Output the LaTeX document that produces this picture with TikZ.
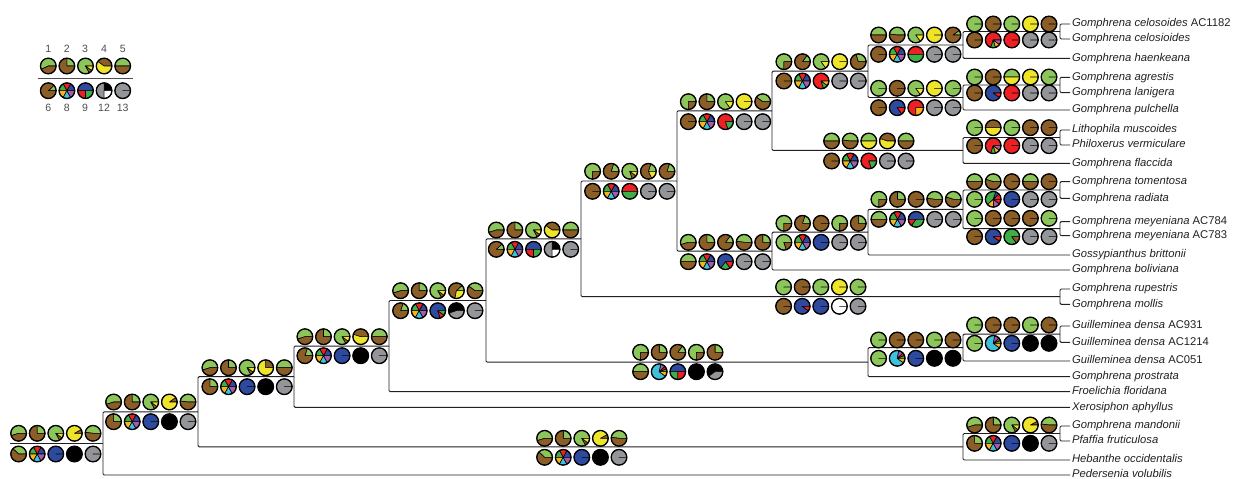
\documentclass[tikz,border=0pt]{standalone}
\usepackage{fontspec}
\setmainfont{Liberation Sans}
\definecolor{gn}{HTML}{8CC65A}
\definecolor{bn}{HTML}{8B5E28}
\definecolor{ye}{HTML}{EEE52B}
\definecolor{rd}{HTML}{ED2024}
\definecolor{bu}{HTML}{2E4A9E}
\definecolor{gy}{HTML}{939598}
\definecolor{bk}{HTML}{000000}
\definecolor{wh}{HTML}{FFFFFF}
\definecolor{dg}{HTML}{3FAE49}
\definecolor{or}{HTML}{F7B51B}
\definecolor{cy}{HTML}{3EC2DC}
\definecolor{pu}{HTML}{A45DAA}
\definecolor{txt}{HTML}{231F20}
\definecolor{numgray}{HTML}{4D4D4F}
\tikzset{branch/.style = {line width=0.8pt, draw=txt, rounded corners=1pt}}
\tikzset{tip/.style = {anchor=west, inner sep=1.5pt, text height=7pt, text depth=2pt,
                       font=\fontsize{9.6}{11}\selectfont\itshape, text=txt}}
\tikzset{slice/.style = {draw=black, line width=0.5pt, line join=round}}
\tikzset{rim/.style = {draw=black, line width=1.1pt}}
\tikzset{num/.style = {font=\fontsize{9}{10}\selectfont, text=numgray, inner sep=0}}
\newlength{\prad}
\setlength{\prad}{0.235cm}
% multi-state pies
\def\mxa{bu/17,rd/16,dg/17,or/17,cy/16,pu/17}
\def\mxr{rd/70,dg/10,or/10,pu/10}
\def\mxc{dg/6,rd/6,pu/10,cy/68,or/10}
\def\mxg{rd/12,bu/8,dg/42,or/14,pu/14,rd/10}
\newcommand{\pie}[3]{%
  \begin{scope}[shift={(#1,#2)}]
    \edef\plist{#3}%
    \gdef\pang{0}%
    \foreach \pc/\pp in \plist {%
      \pgfmathsetmacro{\pnew}{\pang+3.6*\pp}%
      \filldraw[fill=\pc, slice] (0,0) -- (\pang:\prad)
        arc[start angle=\pang, end angle=\pnew, radius=\prad] -- cycle;
      \xdef\pang{\pnew}%
    }%
    \draw[rim] (0,0) circle[radius=\prad];
  \end{scope}}
\newcommand{\pierow}[7]{%
  \pie{#1-74.4}{#2}{#3}\pie{#1-55.8}{#2}{#4}\pie{#1-37.2}{#2}{#5}%
  \pie{#1-18.6}{#2}{#6}\pie{#1}{#2}{#7}}

\begin{document}
\begin{tikzpicture}[x=0.03cm, y=-0.03cm]
  \useasboundingbox (0,0) rectangle (1235,479);

  % internal nodes
  \coordinate (root) at (10,443.4);
  \coordinate (m1) at (103,443.4);
  \coordinate (l1) at (198,411.8);
  \coordinate (k1) at (294,376.7);
  \coordinate (j1) at (389,346.1);
  \coordinate (i1) at (486,300.5);
  \coordinate (h1) at (581,238.8);
  \coordinate (g1) at (677,181);
  \coordinate (f1) at (772,110.8);
  \coordinate (f2) at (772,251.1);
  \coordinate (e1) at (868,71.2);
  \coordinate (e2) at (868,232.2);
  \coordinate (e3) at (868,362.1);
  \coordinate (d1) at (963,45);
  \coordinate (d2) at (963,97.5);
  \coordinate (d3) at (963,150.4);
  \coordinate (d4) at (963,209.3);
  \coordinate (d5) at (963,347.6);
  \coordinate (d6) at (963,446.8);
  \coordinate (c1) at (1060,31.5);
  \coordinate (c2) at (1060,85);
  \coordinate (c3) at (1060,137.5);
  \coordinate (c4) at (1060,190);
  \coordinate (c5) at (1060,228.7);
  \coordinate (c6) at (1060,296.7);
  \coordinate (c7) at (1060,334.2);
  \coordinate (c8) at (1060,433.5);

  % tips
  \node [tip] (t1) at (1070,24) {Gomphrena celosoides \upshape AC1182};
  \node [tip] (t2) at (1070,39) {Gomphrena celosioides};
  \node [tip] (t3) at (1070,58.3) {Gomphrena haenkeana};
  \node [tip] (t4) at (1070,77.3) {Gomphrena agrestis};
  \node [tip] (t5) at (1070,92.7) {Gomphrena lanigera};
  \node [tip] (t6) at (1070,110) {Gomphrena pulchella};
  \node [tip] (t7) at (1070,130) {Lithophila muscoides};
  \node [tip] (t8) at (1070,145) {Philoxerus vermiculare};
  \node [tip] (t9) at (1070,163.3) {Gomphrena flaccida};
  \node [tip] (t10) at (1070,181.7) {Gomphrena tomentosa};
  \node [tip] (t11) at (1070,198.3) {Gomphrena radiata};
  \node [tip] (t12) at (1070,221.7) {Gomphrena meyeniana \upshape AC784};
  \node [tip] (t13) at (1070,235.7) {Gomphrena meyeniana \upshape AC783};
  \node [tip] (t14) at (1070,255) {Gossypianthus brittonii};
  \node [tip] (t15) at (1070,270) {Gomphrena boliviana};
  \node [tip] (t16) at (1070,289) {Gomphrena rupestris};
  \node [tip] (t17) at (1070,304.3) {Gomphrena mollis};
  \node [tip] (t18) at (1070,326) {Guilleminea densa \upshape AC931};
  \node [tip] (t19) at (1070,342.3) {Guilleminea densa \upshape AC1214};
  \node [tip] (t20) at (1070,361) {Guilleminea densa \upshape AC051};
  \node [tip] (t21) at (1070,376.7) {Gomphrena prostrata};
  \node [tip] (t22) at (1070,391.7) {Froelichia floridana};
  \node [tip] (t23) at (1070,407.3) {Xerosiphon aphyllus};
  \node [tip] (t24) at (1070,426) {Gomphrena mandonii};
  \node [tip] (t25) at (1070,441) {Pfaffia fruticulosa};
  \node [tip] (t26) at (1070,460) {Hebanthe occidentalis};
  \node [tip] (t27) at (1070,475) {Pedersenia volubilis};

  % branches
  \draw [branch] (root) -- (m1);
  \foreach \p/\c in {m1/l1, l1/k1, l1/d6, k1/j1, j1/i1, i1/h1, i1/e3, h1/g1, h1/c6,
                     g1/f1, g1/f2, f1/e1, f1/d3, e1/d1, e1/d2, d1/c1, d2/c2, d3/c3,
                     f2/e2, e2/d4, d4/c4, d4/c5, e3/d5, d5/c7, d6/c8}
    \draw [branch] (\p) |- (\c);
  \foreach \p/\c in {m1/t27, k1/t23, j1/t22, c1/t1, c1/t2, d1/t3, c2/t4, c2/t5, d2/t6,
                     c3/t7, c3/t8, d3/t9, c4/t10, c4/t11, c5/t12, c5/t13, e2/t14, f2/t15,
                     c6/t16, c6/t17, c7/t18, c7/t19, d5/t20, e3/t21, c8/t24, c8/t25, d6/t26}
    \draw [branch] (\p) |- (\c.west);

  % legend
  \foreach \x/\n in {48.3/1, 66.7/2, 85/3, 104/4, 122.7/5}
    \node [num] (lg\n) at (\x,49) {\n};
  \foreach \x/\n in {48.3/6, 66.7/8, 85/9, 104/12, 122.7/13}
    \node [num] (lg\n) at (\x,108) {\n};
  \draw [line width=0.8pt, draw=numgray] (38.3,78.3) -- (133.3,78.3);
  \pierow{122.7}{66}{gn/57,bn/43}{gn/25,bn/75}{gn/83,bn/7,ye/10}{bn/40,ye/60}{gn/50,bn/50}
  \pierow{122.7}{90.7}{gn/12,bn/88}{\mxa}{bu/50,rd/25,dg/25}{bk/25,gy/50,wh/25}{gy/100}

  % ancestral states along branches
  \pierow{93}{433.3}{gn/55,bn/45}{gn/25,bn/75}{gn/83,bn/7,ye/10}{bn/8,ye/92}{gn/48,bn/52}
  \pierow{93}{454}{gn/38,bn/62}{\mxa}{bu/100}{bk/100}{gy/100}
  \pierow{188}{402}{gn/55,bn/45}{gn/25,bn/75}{gn/83,bn/7,ye/10}{bn/10,ye/90}{gn/48,bn/52}
  \pierow{188}{421.7}{gn/25,bn/75}{\mxa}{bu/100}{bk/100}{gy/100}
  \pierow{284.3}{367.7}{gn/55,bn/45}{gn/25,bn/75}{gn/83,bn/7,ye/10}{bn/25,ye/75}{gn/50,bn/50}
  \pierow{284.3}{386.7}{gn/25,bn/75}{\mxa}{bu/100}{bk/100}{gy/100}
  \pierow{379.3}{336.7}{gn/55,bn/45}{gn/25,bn/75}{gn/83,bn/7,ye/10}{bn/45,ye/55}{gn/50,bn/50}
  \pierow{379.3}{355.7}{gn/20,bn/80}{\mxa}{bu/100}{bk/100}{gy/100}
  \pierow{475}{290.7}{gn/55,bn/45}{gn/25,bn/75}{gn/83,bn/7,ye/10}{gn/12,bn/60,ye/28}{gn/40,bn/60}
  \pierow{475}{310.7}{gn/20,bn/80}{\mxa}{bu/80,rd/10,dg/10}{bk/55,gy/45}{gy/100}
  \pierow{570.7}{230}{gn/55,bn/45}{gn/25,bn/75}{gn/83,bn/7,ye/10}{bn/40,ye/60}{gn/50,bn/50}
  \pierow{570.7}{249.3}{gn/12,bn/88}{\mxa}{bu/50,rd/25,dg/25}{bk/25,gy/50,wh/25}{gy/100}
  \pierow{667}{171.3}{gn/75,bn/25}{gn/20,bn/80}{gn/80,bn/10,ye/10}{gn/20,bn/62,ye/18}{gn/20,bn/80}
  \pierow{667}{191.3}{bn/100}{\mxa}{rd/50,dg/50}{gy/100}{gy/100}
  \pierow{762.7}{101.7}{gn/75,bn/25}{gn/25,bn/75}{gn/85,ye/15}{ye/100}{gn/40,bn/60}
  \pierow{762.7}{121.7}{bn/100}{\mxa}{rd/80,dg/20}{gy/100}{gy/100}
  \pierow{858.3}{61.7}{gn/75,bn/25}{gn/15,bn/85}{gn/85,ye/15}{ye/100}{gn/30,bn/70}
  \pierow{858.3}{81}{bn/100}{\mxa}{rd/80,dg/10,or/10}{gy/100}{gy/100}
  \pierow{953}{35}{gn/50,bn/50}{gn/48,bn/52}{gn/85,ye/15}{ye/100}{gn/10,bn/90}
  \pierow{953}{54.3}{bn/100}{\mxa}{rd/50,dg/50}{gy/100}{gy/100}
  \pierow{1049}{24}{gn/100}{bn/100}{gn/100}{ye/100}{bn/100}
  \pierow{1049}{40}{bn/100}{\mxr}{rd/100}{gy/100}{gy/100}
  \pierow{953}{88.3}{gn/100}{bn/100}{gn/85,ye/15}{ye/100}{gn/100}
  \pierow{953}{107.7}{bn/100}{bu/85,rd/15}{rd/75,or/25}{gy/100}{gy/100}
  \pierow{1049}{77}{gn/100}{bn/100}{gn/50,ye/50}{ye/100}{gn/100}
  \pierow{1049}{93}{bn/100}{bu/90,rd/10}{rd/100}{gy/100}{gy/100}
  \pierow{906}{141}{gn/50,bn/50}{gn/48,bn/52}{gn/50,ye/50}{bn/45,ye/55}{gn/50,bn/50}
  \pierow{906}{161}{bn/100}{\mxa}{rd/80,dg/20}{gy/100}{gy/100}
  \pierow{1049}{127.7}{gn/100}{bn/50,ye/50}{gn/100}{bn/100}{bn/100}
  \pierow{1049}{145.7}{bn/100}{\mxr}{rd/100}{gy/100}{gy/100}
  \pierow{762.7}{242.3}{gn/55,bn/45}{gn/25,bn/75}{gn/15,bn/85}{gn/48,bn/52}{gn/25,bn/75}
  \pierow{762.7}{261.7}{gn/50,bn/50}{\mxa}{bu/65,dg/20,rd/15}{gy/100}{gy/100}
  \pierow{858.3}{223.3}{gn/75,bn/25}{gn/20,bn/80}{bn/100}{gn/75,bn/25}{gn/25,bn/75}
  \pierow{858.3}{242.3}{gn/80,bn/20}{\mxa}{bu/100}{gy/100}{gy/100}
  \pierow{953.3}{199.3}{gn/75,bn/25}{gn/25,bn/75}{bn/100}{gn/48,bn/52}{gn/45,bn/55}
  \pierow{953.3}{219.3}{gn/50,bn/50}{\mxa}{bu/50,rd/15,dg/35}{gy/100}{gy/100}
  \pierow{1049}{181.7}{gn/50,bn/50}{gn/45,bn/55}{bn/100}{gn/50,bn/50}{bn/100}
  \pierow{1049}{199.3}{gn/100}{\mxg}{bu/100}{gy/100}{gy/100}
  \pierow{1049}{218.3}{gn/100}{bn/100}{bn/100}{bn/100}{gn/100}
  \pierow{1049}{236.7}{bn/100}{bu/90,rd/10}{dg/85,bn/15}{gy/100}{gy/100}
  \pierow{858}{287}{gn/100}{bn/100}{gn/100}{ye/100}{gn/100}
  \pierow{858}{306.3}{bn/100}{bu/90,rd/10}{bu/100}{wh/100}{gy/100}
  \pierow{715}{352.3}{gn/75,bn/25}{gn/25,bn/75}{gn/15,bn/85}{gn/75,bn/25}{gn/25,bn/75}
  \pierow{715}{371.7}{gn/50,bn/50}{\mxc}{bu/50,dg/25,rd/25}{bk/100}{bk/60,gy/40}
  \pierow{953}{340}{gn/100}{bn/100}{bn/100}{gn/100}{bn/100}
  \pierow{953}{358.3}{gn/100}{\mxc}{bu/100}{bk/100}{bk/100}
  \pierow{1049}{325}{gn/100}{bn/100}{bn/100}{gn/100}{bn/100}
  \pierow{1049}{343.3}{gn/100}{\mxc}{bu/100}{bk/100}{bk/100}
  \pierow{619}{438.3}{gn/55,bn/45}{gn/25,bn/75}{gn/83,bn/7,ye/10}{bn/8,ye/92}{gn/48,bn/52}
  \pierow{619}{457.3}{gn/38,bn/62}{\mxa}{bu/100}{bk/100}{gy/100}
  \pierow{1049}{425}{gn/55,bn/45}{gn/25,bn/75}{gn/83,bn/7,ye/10}{bn/8,ye/92}{gn/48,bn/52}
  \pierow{1049}{443.3}{gn/25,bn/75}{\mxa}{bu/100}{bk/100}{gy/100}
\end{tikzpicture}
\end{document}
